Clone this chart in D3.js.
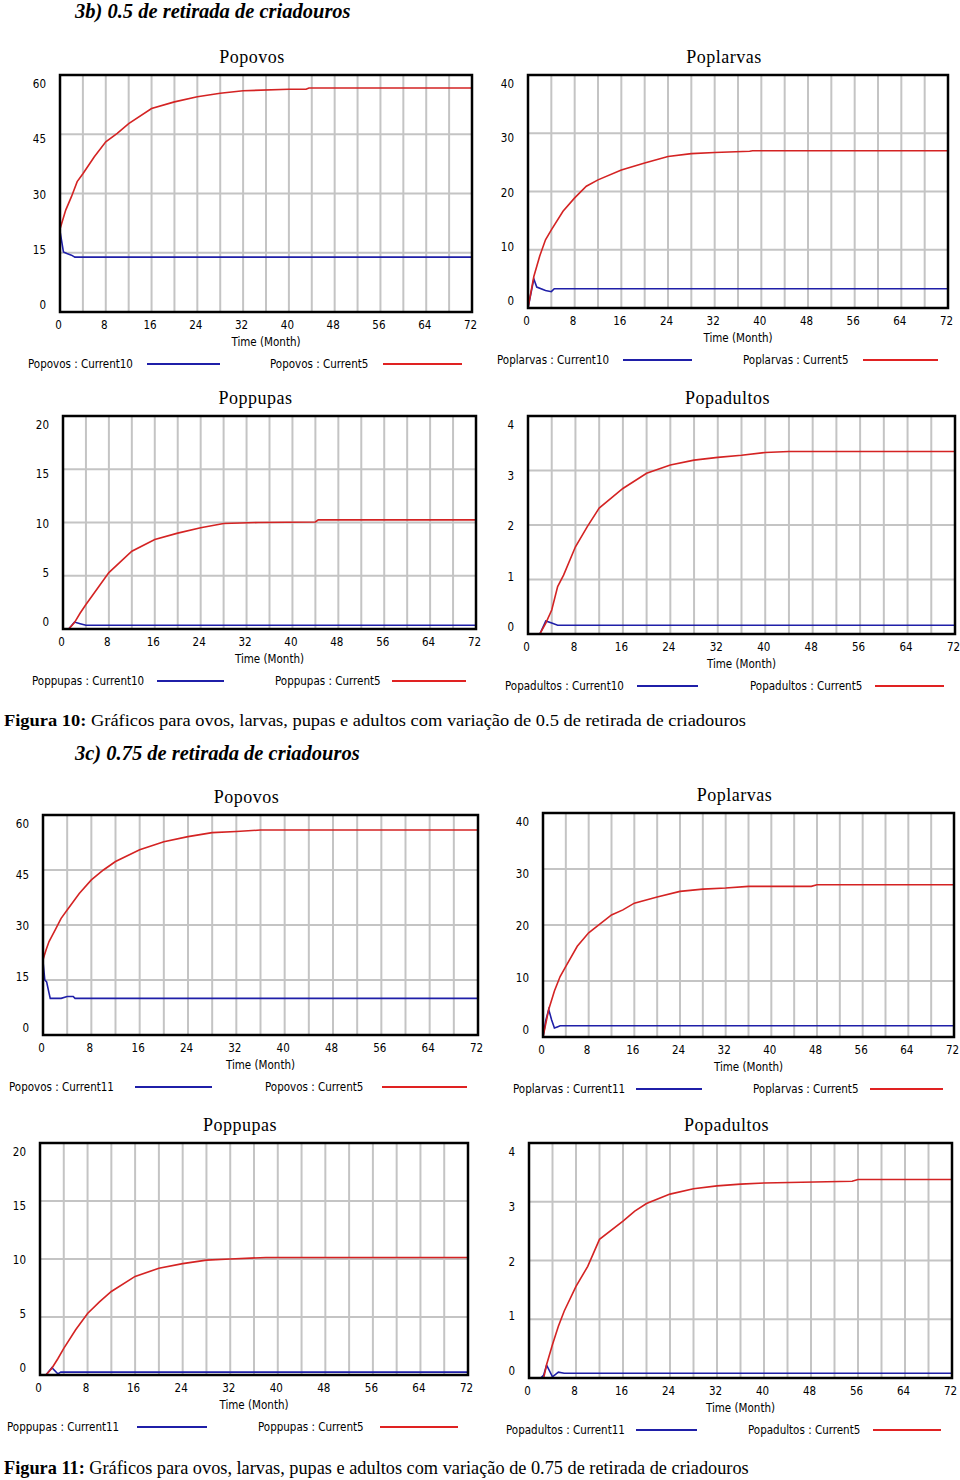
<!DOCTYPE html>
<html><head><meta charset="utf-8">
<script src="https://cdn.jsdelivr.net/npm/d3@7"></script>
<style>
body{margin:0;background:#fff;}
svg{display:block;}
.tick-t{font-family:"DejaVu Sans Condensed","Liberation Sans Narrow",sans-serif;font-stretch:condensed;font-size:11.5px;fill:#000;}
.ttl{font-family:"Liberation Serif","DejaVu Serif",serif;font-size:18px;fill:#000;letter-spacing:0.5px;}
.cap{font-family:"Liberation Serif",serif;fill:#000;}
</style></head>
<body>
<svg id="c" width="960" height="1480"></svg>
<script>
// ---------- data ----------
const xTicks = [0, 8, 16, 24, 32, 40, 48, 56, 64, 72];
const xGridStep = 4;
const yTicksOvos = [0, 15, 30, 45, 60];
const yTicksLarvas = [0, 10, 20, 30, 40];
const yTicksPupas = [0, 5, 10, 15, 20];
const yTicksAdultos = [0, 1, 2, 3, 4];
const titles = ["Popovos", "Poplarvas", "Poppupas", "Popadultos"];
const runs05 = ["Current10", "Current5"];
const runs075 = ["Current11", "Current5"];

// 0.5 scenario  [month, value]
const ovos05_c10 = [[0,20.5],[0.6,15.2],[1.2,14.8],[2,14.4],[2.6,13.9],[72,13.9]];
const ovos05_c5 = [[0,21],[1,25.8],[2,29.2],[3,33],[4,35],[6,39.3],[8,43.1],[10,45.2],[12,47.7],[16,51.5],[20,53.2],[24,54.5],[28,55.4],[32,56],[40,56.4],[43,56.4],[43.5,56.7],[72,56.7]];
const larvas05_c10 = [[0,0],[1,5],[1.5,3.6],[3,3],[4,2.8],[4.5,3.3],[72,3.3]];
const larvas05_c5 = [[0,0],[1,5.4],[2,8.9],[3,11.7],[4,13.4],[6,16.6],[8,18.9],[10,20.9],[12,22],[16,23.7],[20,24.9],[24,26],[28,26.5],[32,26.7],[38,26.9],[38.5,27],[72,27]];
const pupas05_c10 = [[0,0],[1,0],[2,0.65],[3,0.5],[4,0.35],[72,0.35]];
const pupas05_c5 = [[0,0],[1,0],[2,0.6],[3,1.5],[4,2.3],[6,3.8],[8,5.3],[10,6.3],[12,7.3],[16,8.4],[20,9],[24,9.5],[28,9.9],[34,10],[44,10.05],[44.5,10.25],[72,10.25]];
const adultos05_c10 = [[0,0],[2,0],[3,0.24],[4,0.2],[5,0.16],[72,0.16]];
const adultos05_c5 = [[0,0],[2,0],[3,0.2],[4,0.44],[5,0.87],[6,1.08],[8,1.6],[10,1.97],[12,2.31],[16,2.67],[20,2.95],[24,3.1],[28,3.19],[32,3.24],[36,3.28],[40,3.33],[44,3.35],[72,3.35]];

// 0.75 scenario
const ovos075_c11 = [[0,20],[0.3,15],[0.6,14.5],[1,11.4],[1.2,10],[3,10],[4,10.5],[5,10.5],[5.3,10],[72,10]];
const ovos075_c5 = [[0,20.5],[0.5,23.2],[1,25.5],[2,28.6],[3,31.8],[4,34.1],[6,38.6],[8,42.3],[10,45],[12,47.3],[16,50.5],[20,52.7],[24,54.1],[28,55.2],[32,55.5],[36,55.9],[72,55.9]];
const larvas075_c11 = [[0,0],[0.5,3],[1,4.9],[1.5,3.1],[2,1.6],[2.5,1.8],[3,2],[72,2]];
const larvas075_c5 = [[0,0],[1,4.9],[2,8.2],[3,10.8],[4,12.6],[6,16.2],[8,18.6],[10,20.2],[12,21.8],[14,22.7],[16,23.9],[20,25],[24,26],[28,26.4],[32,26.6],[36,26.9],[47,26.9],[48,27.2],[72,27.2]];
const pupas075_c11 = [[0,0],[1,0],[2,0.63],[3,0.1],[3.5,0.25],[72,0.25]];
const pupas075_c5 = [[0,0],[1,0],[2,0.58],[3,1.4],[4,2.3],[6,3.9],[8,5.3],[10,6.3],[12,7.2],[16,8.5],[20,9.2],[24,9.6],[28,9.9],[32,10],[38,10.13],[72,10.13]];
const adultos075_c11 = [[0,0],[2,0],[2.5,0.05],[3,0.22],[4,0.02],[5,0.1],[6,0.08],[72,0.08]];
const adultos075_c5 = [[0,0],[2.5,0],[3,0.23],[4,0.57],[5,0.88],[6,1.14],[8,1.56],[10,1.9],[12,2.36],[16,2.67],[18,2.84],[20,2.97],[24,3.13],[28,3.22],[32,3.27],[36,3.3],[40,3.32],[55,3.35],[56,3.38],[72,3.38]];

// ---------- layout ----------
const panels = [
  {title:0, yt:yTicksOvos, runs:runs05, s:[ovos05_c10, ovos05_c5], L:60, R:472, T:75, B:312, leg:[28,147,220,270,383,462]},
  {title:1, yt:yTicksLarvas, runs:runs05, s:[larvas05_c10, larvas05_c5], L:528, R:948, T:75, B:308, leg:[497,623,692,743,863,938]},
  {title:2, yt:yTicksPupas, runs:runs05, s:[pupas05_c10, pupas05_c5], L:63, R:476, T:416, B:629, leg:[32,157,224,275,392,466]},
  {title:3, yt:yTicksAdultos, runs:runs05, s:[adultos05_c10, adultos05_c5], L:528, R:955, T:416, B:634, leg:[505,637,698,750,875,944]},
  {title:0, yt:yTicksOvos, runs:runs075, s:[ovos075_c11, ovos075_c5], L:43, R:478, T:815, B:1035, leg:[9,135,212,265,382,467]},
  {title:1, yt:yTicksLarvas, runs:runs075, s:[larvas075_c11, larvas075_c5], L:543, R:954, T:813, B:1037, leg:[513,636,702,753,870,943]},
  {title:2, yt:yTicksPupas, runs:runs075, s:[pupas075_c11, pupas075_c5], L:40, R:468, T:1143, B:1375, leg:[7,137,207,258,380,458]},
  {title:3, yt:yTicksAdultos, runs:runs075, s:[adultos075_c11, adultos075_c5], L:529, R:952, T:1143, B:1378, leg:[506,636,697,748,873,941]}
];
const lineColors = ["#1f1fa8", "#d42323"];
const legColors = ["#1f1fa8", "#e02222"];

const svg = d3.select("#c");
svg.append("rect").attr("width",960).attr("height",1480).attr("fill","#fff");

// headings & captions
svg.append("text").attr("class","cap").attr("x",75).attr("y",18)
  .attr("font-size",20.5).attr("font-weight","bold").attr("font-style","italic")
  .text("3b) 0.5 de retirada de criadouros");
const c10 = svg.append("text").attr("class","cap").attr("x",4).attr("y",726).attr("font-size",17.5)
  .attr("textLength",742).attr("lengthAdjust","spacingAndGlyphs");
c10.append("tspan").attr("font-weight","bold").text("Figura 10:");
c10.append("tspan").text(" Gráficos  para ovos, larvas, pupas e adultos com variação de 0.5 de retirada de criadouros");
svg.append("text").attr("class","cap").attr("x",75).attr("y",760)
  .attr("font-size",20.5).attr("font-weight","bold").attr("font-style","italic")
  .text("3c) 0.75 de retirada de criadouros");
const c11 = svg.append("text").attr("class","cap").attr("x",4).attr("y",1474).attr("font-size",18.3);
c11.append("tspan").attr("font-weight","bold").text("Figura 11:");
c11.append("tspan").text(" Gráficos para ovos, larvas, pupas e adultos com variação de 0.75 de retirada de criadouros");

const fmt = d3.format("d");

panels.forEach(p => {
  const g = svg.append("g");
  const x = d3.scaleLinear().domain([0,72]).range([p.L, p.R]);
  const yMax = p.yt[p.yt.length-1];
  const y = d3.scaleLinear().domain([0,yMax]).range([p.B, p.T]);
  const yLab = d3.scaleLinear().domain([0,yMax]).range([p.B-7, p.T+9]);

  // vertical grid every 4 months
  const vg = d3.range(xGridStep, 72, xGridStep);
  g.selectAll(".vg").data(vg).join("line")
    .attr("x1",d=>x(d)).attr("x2",d=>x(d)).attr("y1",p.T).attr("y2",p.B)
    .attr("stroke","#c4c4c4").attr("stroke-width",2);
  g.selectAll(".hg").data(p.yt.slice(1,-1)).join("line")
    .attr("x1",p.L).attr("x2",p.R).attr("y1",d=>y(d)).attr("y2",d=>y(d))
    .attr("stroke","#c4c4c4").attr("stroke-width",2);

  // series
  const line = d3.line().x(d=>x(d[0])).y(d=>y(d[1]));
  p.s.forEach((ser,i) => {
    g.append("path").datum(ser).attr("d",line).attr("fill","none")
      .attr("stroke",lineColors[i]).attr("stroke-width",1.6);
  });

  // frame
  g.append("rect").attr("x",p.L).attr("y",p.T).attr("width",p.R-p.L).attr("height",p.B-p.T)
    .attr("fill","none").attr("stroke","#000").attr("stroke-width",2.5);

  // axes labels via d3 axes (no lines)
  const xa = d3.axisBottom(x).tickValues(xTicks).tickFormat(fmt).tickSize(0).tickPadding(0);
  const xg = g.append("g").attr("transform",`translate(-2,${p.B+9})`).call(xa);
  xg.select(".domain").remove();
  xg.selectAll("text").attr("class","tick-t").attr("font-size",null).attr("font-family",null).attr("dy","0.71em").attr("fill",null);

  const ya = d3.axisLeft(yLab).tickValues(p.yt).tickFormat(fmt).tickSize(0).tickPadding(0);
  const yg = g.append("g").attr("transform",`translate(${p.L-14},0)`).call(ya);
  yg.select(".domain").remove();
  yg.selectAll("text").attr("class","tick-t").attr("font-size",null).attr("font-family",null).attr("fill",null);

  // title
  g.append("text").attr("class","ttl").attr("x",(p.L+p.R)/2-14).attr("y",p.T-12)
    .attr("text-anchor","middle").text(titles[p.title]);
  // axis title
  g.append("text").attr("class","tick-t").attr("x",(p.L+p.R)/2).attr("y",p.B+34)
    .attr("text-anchor","middle").text("Time (Month)");
  // legend
  const ly = p.B+52;
  const name = titles[p.title];
  [0,1].forEach(i => {
    g.append("text").attr("class","tick-t").attr("x",p.leg[i*3]).attr("y",ly+4)
      .text(`${name} : ${p.runs[i]}`);
    g.append("line").attr("x1",p.leg[i*3+1]).attr("x2",p.leg[i*3+2]).attr("y1",ly).attr("y2",ly)
      .attr("stroke",legColors[i]).attr("stroke-width",2);
  });
});
</script>
</body></html>
